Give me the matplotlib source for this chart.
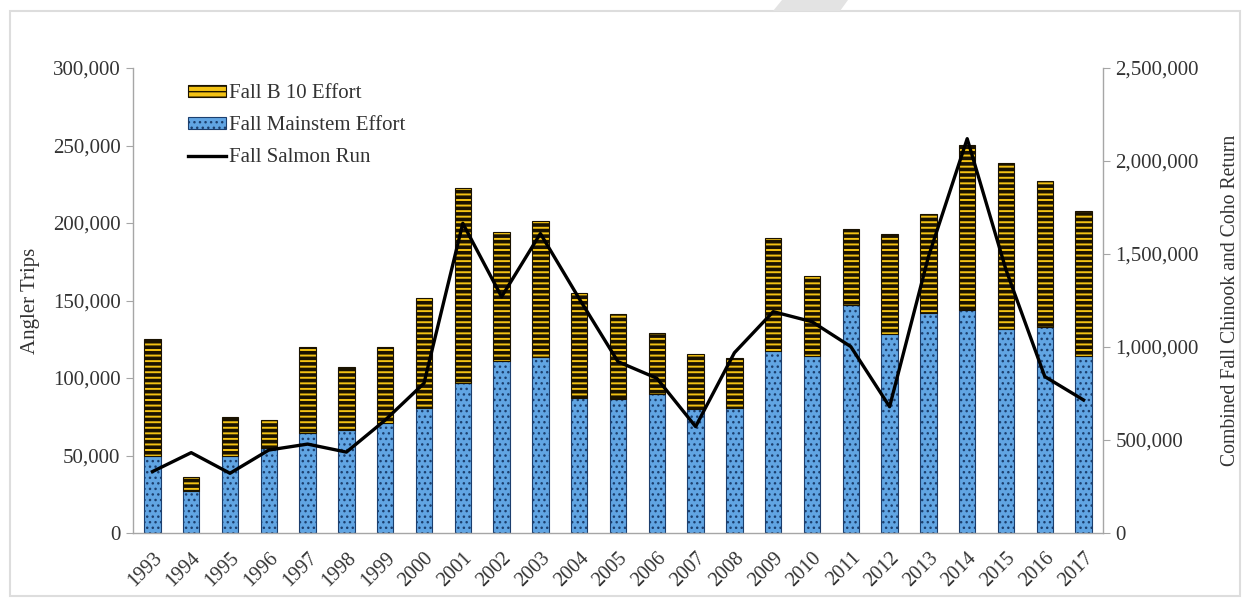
import numpy as np
import matplotlib.pyplot as plt
from matplotlib.patches import Polygon, Rectangle
from matplotlib.lines import Line2D

plt.rcParams['font.family'] = ['Liberation Serif', 'DejaVu Serif']

years = [str(y) for y in range(1993, 2018)]
mainstem = [50000, 27000, 50000, 55000, 64500, 66500, 71000, 80900, 96600, 111000,
            113300, 86900, 86200, 89500, 79800, 80900, 117400, 114200, 146900, 128200,
            141700, 143900, 131400, 133100, 114200]
total = [125000, 36000, 75000, 73000, 120000, 107000, 120000, 151800, 222400, 194400,
         201500, 155000, 141300, 129200, 115300, 113100, 190100, 165800, 195900, 192900,
         205600, 250300, 238500, 227100, 207700]
b10 = [t - m for t, m in zip(total, mainstem)]
salmon_run = [330000, 432000, 321000, 446000, 478000, 435000, 607000, 805000, 1665000, 1270000,
              1610000, 1260000, 921000, 832000, 572000, 969000, 1190000, 1136000, 1002000, 679000,
              1485000, 2120000, 1415000, 841000, 715000]

blue = '#61a5e3'
gold = '#f3c214'
grey = '#a6a6a6'
txt = '#333333'

fig = plt.figure(figsize=(12.48, 5.99), dpi=100)
ax = fig.add_axes([133/1248, 66/599, 970/1248, 465/599])
ax2 = ax.twinx()

x = np.arange(len(years))
w = 0.42
with plt.rc_context({'hatch.linewidth': 1.0}):
    ax.bar(x, mainstem, w, color=blue, edgecolor='#1c3f6e', linewidth=0.8, hatch='...')
    h2 = Rectangle((0, 0), 1, 1, facecolor=blue, edgecolor='#1c3f6e', hatch='...', lw=0.8)
with plt.rc_context({'hatch.linewidth': 2.6}):
    ax.bar(x, b10, w, bottom=mainstem, color=gold, edgecolor='#1a1200', linewidth=0.8, hatch='---')
    h1 = Rectangle((0, 0), 1, 1, facecolor=gold, edgecolor='#1a1200', hatch='---', lw=0.8)
ax2.plot(x, salmon_run, color='black', lw=2.4)

ax.set_xlim(-0.5, len(years) - 0.5)
ax.set_ylim(0, 300000)
ax2.set_ylim(0, 2500000)
ax.set_yticks(np.arange(0, 300001, 50000))
ax2.set_yticks(np.arange(0, 2500001, 500000))
ax.set_yticklabels([f'{v:,}' for v in range(0, 300001, 50000)])
ax2.set_yticklabels([f'{v:,}' for v in range(0, 2500001, 500000)])
ax.set_xticks(x)
ax.set_xticklabels(years, rotation=45, ha='right', rotation_mode='anchor')

for a in (ax, ax2):
    a.spines['top'].set_visible(False)
    for s in ('left', 'right', 'bottom'):
        a.spines[s].set_color(grey)
        a.spines[s].set_linewidth(1.0)
    a.tick_params(axis='y', labelsize=15, length=5, pad=4, colors=grey, labelcolor=txt)
ax.spines['right'].set_visible(False)
ax2.spines['left'].set_visible(False)
ax2.spines['bottom'].set_visible(False)
ax.tick_params(axis='x', labelsize=14.5, length=0, pad=11, labelcolor=txt)

ax.set_ylabel('Angler Trips', fontsize=15, color=txt)
ax.yaxis.set_label_coords(-0.096, 0.5)
ax2.set_ylabel('Combined Fall Chinook and Coho Return', fontsize=14.2, color=txt)
ax2.yaxis.set_label_coords(1.122, 0.5)

h3 = Line2D([], [], color='black', lw=2.4)
ax2.legend([h1, h2, h3], ['Fall B 10 Effort', 'Fall Mainstem Effort', 'Fall Salmon Run'],
           loc='upper left', bbox_to_anchor=(0.037, 1.005), frameon=False, fontsize=15,
           handlelength=1.85, handleheight=0.45, handletextpad=0.15, labelspacing=0.62,
           labelcolor=txt)

# page border and watermark corner
fig.add_artist(Rectangle((10/1248, 3/599), 1230/1248, 585/599, transform=fig.transFigure,
                         fill=False, edgecolor='#dddddd', lw=1.5))
fig.add_artist(Polygon([(782/1248, 1.0), (848/1248, 1.0), (840/1248, 588/599), (773/1248, 588/599)],
                       closed=True, transform=fig.transFigure, facecolor='#e3e3e3', edgecolor='none'))

fig.savefig('out.png', dpi=100)
